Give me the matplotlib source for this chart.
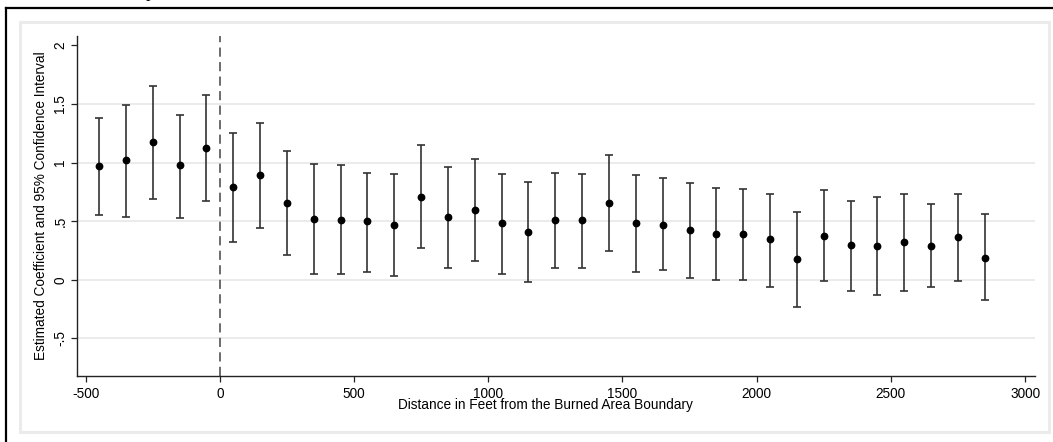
"""Event-study style coefficient plot: estimates and 95% CIs by distance bin."""

import matplotlib
matplotlib.use("Agg")
import matplotlib.pyplot as plt
from matplotlib.lines import Line2D
from matplotlib.patches import Rectangle

# distance bin midpoints (feet from burned area boundary)
distance = [-450, -350, -250, -150, -50,
            50, 150, 250, 350, 450, 550, 650, 750, 850, 950,
            1050, 1150, 1250, 1350, 1450, 1550, 1650, 1750, 1850, 1950,
            2050, 2150, 2250, 2350, 2450, 2550, 2650, 2750, 2850]
coef = [0.967, 1.024, 1.175, 0.979, 1.124,
        0.791, 0.891, 0.655, 0.521, 0.509, 0.498, 0.467, 0.711, 0.532, 0.598,
        0.487, 0.410, 0.509, 0.509, 0.657, 0.487, 0.467, 0.424, 0.387, 0.387,
        0.347, 0.176, 0.373, 0.299, 0.287, 0.322, 0.287, 0.367, 0.188]
ci_low = [0.549, 0.538, 0.692, 0.526, 0.669,
          0.327, 0.444, 0.211, 0.046, 0.046, 0.071, 0.037, 0.270, 0.097, 0.165,
          0.046, -0.014, 0.097, 0.097, 0.248, 0.071, 0.085, 0.017, 0.000, 0.000,
          -0.057, -0.233, -0.011, -0.091, -0.128, -0.091, -0.065, -0.011, -0.174]
ci_high = [1.383, 1.488, 1.650, 1.403, 1.579,
           1.252, 1.335, 1.101, 0.985, 0.976, 0.913, 0.905, 1.147, 0.962, 1.030,
           0.905, 0.831, 0.913, 0.905, 1.064, 0.894, 0.865, 0.822, 0.785, 0.774,
           0.729, 0.578, 0.763, 0.669, 0.703, 0.729, 0.646, 0.729, 0.566]

xticks = [-500, 0, 500, 1000, 1500, 2000, 2500, 3000]
yticks = [-0.5, 0, 0.5, 1, 1.5, 2]
ytick_labels = ["-.5", "0", ".5", "1", "1.5", "2"]
grid_lines = [-0.5, 0, 0.5, 1, 1.5]

W, H = 1053, 442
plt.rcParams["font.family"] = ["Liberation Sans", "DejaVu Sans"]

fig = plt.figure(figsize=(W / 100, H / 100), dpi=100)
ax = fig.add_axes([77 / W, 1 - 376 / H, (1035 - 77) / W, (376 - 36) / H])

for g in grid_lines:
    ax.axhline(g, color="#e8e8e8", lw=1.2, zorder=0)
ax.axvline(0, color="#444444", lw=1.1, ls=(0, (6, 3.5)), zorder=1)

err_lo = [c - lo for c, lo in zip(coef, ci_low)]
err_hi = [hi - c for c, hi in zip(coef, ci_high)]
ax.errorbar(distance, coef, yerr=[err_lo, err_hi], fmt="o", color="black",
            ms=4.6, ecolor="#333333", elinewidth=1.2, capsize=2.6,
            capthick=1.2, zorder=3)

ax.set_xlim(-532, 3037)
ax.set_ylim(-0.82, 2.08)
ax.set_xticks(xticks)
ax.set_xticklabels([str(t) for t in xticks])
ax.set_yticks(yticks)
ax.set_yticklabels(ytick_labels, rotation=90, va="center")
ax.tick_params(axis="both", labelsize=9.8, length=4, width=0.9,
               color="#222222", pad=4)
ax.tick_params(axis="y", pad=3)
for s in ("top", "right"):
    ax.spines[s].set_visible(False)
for s in ("left", "bottom"):
    ax.spines[s].set_linewidth(1.0)
    ax.spines[s].set_color("#222222")

ax.set_ylabel("Estimated Coefficient and 95% Confidence Interval",
              fontsize=9.8, labelpad=4)
fig.text(545 / W, 1 - 405 / H, "Distance in Feet from the Burned Area Boundary",
         ha="center", va="center", fontsize=9.8)

# Stata-style graph region frame and outer page border
fig.patches.append(Rectangle((20 / W, 1 - 432 / H), (1049 - 20) / W,
                             (432 - 22) / H, transform=fig.transFigure,
                             fill=False, edgecolor="#ebebeb", lw=2.2))
fig.lines.append(Line2D([6 / W, 1], [1 - 8 / H, 1 - 8 / H],
                        transform=fig.transFigure, color="black", lw=1.6))
fig.lines.append(Line2D([6 / W, 6 / W], [0, 1 - 8 / H],
                        transform=fig.transFigure, color="black", lw=1.6))
# cut-off text from the page above the figure
fig.text(150 / W, 1 + 3 / H, "p", ha="center", va="baseline",
         fontsize=13, family=["Liberation Serif", "DejaVu Serif"])

fig.savefig("out.png", dpi=100, facecolor="white")
